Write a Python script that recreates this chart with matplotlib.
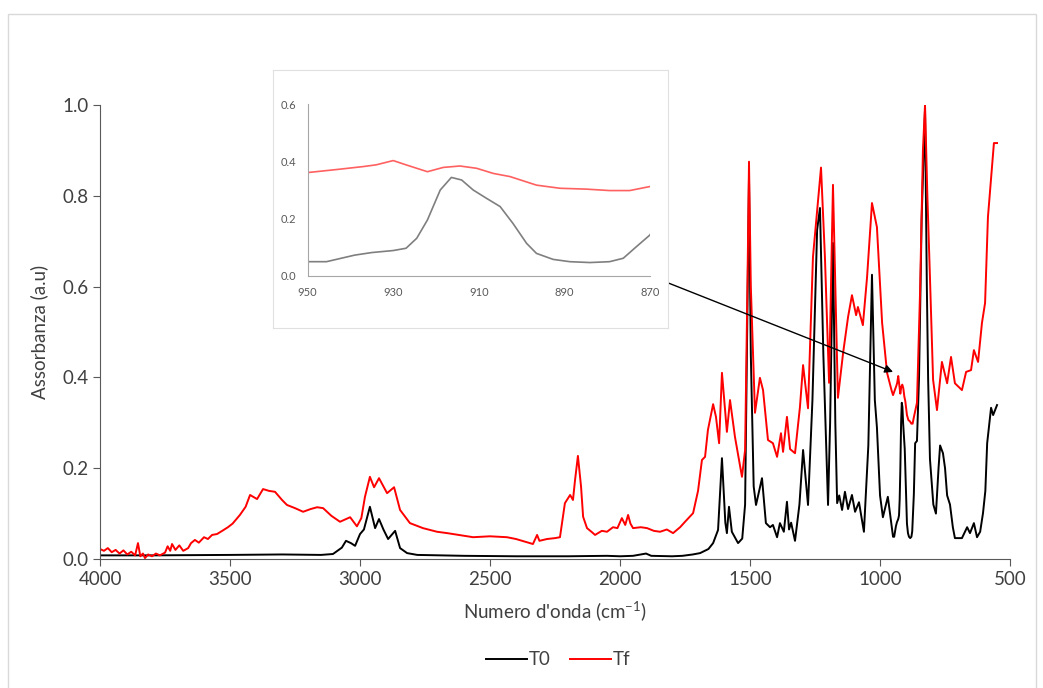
import matplotlib
matplotlib.use("Agg")
import matplotlib.pyplot as plt
from matplotlib.patches import Rectangle

plt.rcParams["font.family"] = ["Lato", "DejaVu Sans"]

# wavenumber (cm-1) / absorbance
wn_t0 = [4000, 3800, 3500, 3300, 3150, 3104, 3070, 3054, 3035, 3019, 3000, 2985,
         2962, 2942, 2927, 2910, 2892, 2865, 2846, 2819, 2780, 2600, 2400, 2200,
         2050, 2000, 1950, 1900, 1880, 1800, 1760, 1720, 1692, 1660, 1642, 1623,
         1608, 1595, 1589, 1581, 1570, 1546, 1530, 1519, 1510, 1504, 1497, 1486,
         1477, 1454, 1439, 1423, 1412, 1396, 1385, 1370, 1358, 1350, 1342, 1327,
         1310, 1296, 1277, 1260, 1242, 1231, 1218, 1200, 1192, 1181, 1172, 1165,
         1157, 1146, 1135, 1123, 1108, 1096, 1081, 1062, 1045, 1031, 1020, 1012,
         1000, 989, 970, 955,
         950, 945.6, 939, 935, 930, 927, 924.5, 922, 919, 916.4, 914, 911.3,
         908.2, 905, 902, 898.8, 896.5, 892.6, 888.7, 884, 879.4, 876.2, 873.1, 870,
         865, 858, 850, 840, 827, 820, 815, 808, 795, 785, 775, 769, 758, 750,
         742, 731, 720, 712, 685, 665, 654, 639, 627, 615, 604, 595, 588, 573,
         565, 550]
abs_t0 = [0.008, 0.008, 0.009, 0.010, 0.009, 0.011, 0.025, 0.040, 0.035, 0.029, 0.055, 0.065,
          0.115, 0.068, 0.088, 0.065, 0.044, 0.062, 0.024, 0.013, 0.009, 0.007, 0.006, 0.006,
          0.007, 0.006, 0.007, 0.012, 0.007, 0.006, 0.007, 0.010, 0.013, 0.022, 0.035, 0.064,
          0.222, 0.080, 0.057, 0.115, 0.060, 0.035, 0.045, 0.120, 0.550, 0.840, 0.450, 0.160,
          0.119, 0.178, 0.079, 0.070, 0.075, 0.048, 0.079, 0.060, 0.126, 0.065, 0.080, 0.040,
          0.120, 0.240, 0.119, 0.350, 0.725, 0.773, 0.450, 0.119, 0.300, 0.696, 0.300, 0.123,
          0.140, 0.108, 0.148, 0.110, 0.141, 0.104, 0.125, 0.060, 0.250, 0.626, 0.350, 0.290,
          0.140, 0.092, 0.137, 0.070,
          0.049, 0.049, 0.072, 0.081, 0.088, 0.096, 0.131, 0.195, 0.300, 0.344, 0.335, 0.300,
          0.271, 0.242, 0.183, 0.113, 0.078, 0.057, 0.049, 0.046, 0.049, 0.061, 0.102, 0.142,
          0.255, 0.260, 0.400, 0.750, 0.990, 0.600, 0.395, 0.220, 0.120, 0.100, 0.200, 0.250, 0.233, 0.200,
          0.140, 0.120, 0.070, 0.046, 0.046, 0.070, 0.057, 0.079, 0.048, 0.060, 0.101, 0.150, 0.255, 0.333,
          0.317, 0.339]

wn_tf = [4000, 3985, 3970, 3955, 3940, 3925, 3910, 3895, 3880, 3865, 3854, 3845,
         3835, 3827, 3815, 3800, 3785, 3770, 3750, 3740, 3730, 3723, 3710, 3695,
         3680, 3661, 3650, 3635, 3620, 3600, 3585, 3569, 3550, 3530, 3508, 3490,
         3462, 3440, 3423, 3396, 3373, 3350, 3327, 3300, 3281, 3250, 3219, 3190,
         3165, 3142, 3110, 3077, 3038, 3012, 2995, 2981, 2962, 2946, 2927, 2910,
         2896, 2869, 2846, 2808, 2758, 2704, 2665, 2620, 2565, 2500, 2435, 2400,
         2358, 2335, 2319, 2310, 2281, 2250, 2231, 2212, 2192, 2181, 2173, 2162,
         2150, 2142, 2127, 2110, 2096, 2070, 2050, 2027, 2010, 1993, 1980, 1969,
         1960, 1950, 1920, 1896, 1870, 1846, 1820, 1796, 1769, 1750, 1719, 1700,
         1685, 1673, 1662, 1642, 1631, 1619, 1608, 1589, 1577, 1558, 1531, 1519,
         1510, 1504, 1497, 1481, 1462, 1450, 1431, 1412, 1396, 1381, 1373, 1358,
         1346, 1327, 1308, 1296, 1277, 1258, 1227, 1212, 1196, 1181, 1162, 1142,
         1123, 1108, 1092, 1085, 1066, 1050, 1031, 1012, 992, 973, 955,
         950, 943, 937, 934, 930, 927, 922, 918.3, 914.4, 910.5, 906.6, 902.7,
         896.5, 891, 884.8, 879.4, 874.7, 870,
         858, 846, 835, 827, 818, 808, 796, 781, 762, 742, 727, 712, 685, 669,
         650, 639, 623, 608, 596, 585, 562, 550]
abs_tf = [0.022, 0.018, 0.024, 0.015, 0.020, 0.012, 0.019, 0.010, 0.016, 0.008, 0.035, 0.006,
          0.012, 0.002, 0.010, 0.006, 0.012, 0.008, 0.014, 0.028, 0.018, 0.033, 0.020, 0.030,
          0.018, 0.024, 0.035, 0.042, 0.036, 0.048, 0.044, 0.053, 0.055, 0.062, 0.070, 0.078,
          0.097, 0.115, 0.141, 0.132, 0.154, 0.150, 0.148, 0.130, 0.119, 0.112, 0.104, 0.110,
          0.114, 0.112, 0.095, 0.082, 0.092, 0.072, 0.090, 0.137, 0.181, 0.158, 0.178, 0.160,
          0.145, 0.158, 0.108, 0.079, 0.068, 0.060, 0.057, 0.053, 0.048, 0.050, 0.048, 0.044,
          0.037, 0.033, 0.053, 0.040, 0.044, 0.046, 0.048, 0.123, 0.141, 0.130, 0.174, 0.227,
          0.160, 0.093, 0.068, 0.060, 0.053, 0.062, 0.060, 0.070, 0.068, 0.090, 0.075, 0.097,
          0.078, 0.068, 0.070, 0.068, 0.062, 0.060, 0.065, 0.057, 0.070, 0.082, 0.101, 0.150,
          0.218, 0.225, 0.284, 0.341, 0.313, 0.255, 0.410, 0.280, 0.350, 0.269, 0.181, 0.240,
          0.600, 0.875, 0.600, 0.322, 0.399, 0.372, 0.262, 0.255, 0.225, 0.277, 0.236, 0.313,
          0.242, 0.233, 0.335, 0.427, 0.332, 0.665, 0.862, 0.665, 0.388, 0.824, 0.355, 0.454,
          0.533, 0.581, 0.537, 0.555, 0.515, 0.620, 0.784, 0.731, 0.520, 0.410, 0.370,
          0.361, 0.372, 0.382, 0.388, 0.403, 0.388, 0.364, 0.379, 0.384, 0.376, 0.358, 0.347,
          0.317, 0.306, 0.303, 0.298, 0.298, 0.312,
          0.344, 0.590, 0.900, 1.000, 0.800, 0.620, 0.395, 0.328, 0.434, 0.387, 0.445, 0.387, 0.372, 0.412,
          0.416, 0.460, 0.434, 0.520, 0.564, 0.753, 0.916, 0.916]

labels = ["T0", "Tf"]
main_xticks = [4000, 3500, 3000, 2500, 2000, 1500, 1000, 500]
main_yticks = [0.0, 0.2, 0.4, 0.6, 0.8, 1.0]
inset_xticks = [950, 930, 910, 890, 870]
inset_yticks = [0.0, 0.2, 0.4, 0.6]

txt = "#404040"

fig = plt.figure(figsize=(10.43, 6.88), dpi=100)
fig.patches.append(Rectangle((8 / 1043, -0.01), (1036 - 8) / 1043, 1.01 - 14 / 688,
                             transform=fig.transFigure, fill=False,
                             edgecolor="#d9d9d9", lw=1))

ax = fig.add_axes([0.0959, 0.1875, 0.8725, 0.66])
ax.plot(wn_t0, abs_t0, color="black", lw=1.4, label=labels[0])
ax.plot(wn_tf, abs_tf, color="red", lw=1.4, label=labels[1])
ax.set_xlim(4000, 500)
ax.set_ylim(0, 1.0)
ax.set_xticks(main_xticks)
ax.set_yticks(main_yticks)
ax.set_yticklabels([f"{v:.1f}" for v in main_yticks])
for s in ["top", "right"]:
    ax.spines[s].set_visible(False)
for s in ["left", "bottom"]:
    ax.spines[s].set_color("#595959")
ax.tick_params(colors="#595959", labelcolor=txt, labelsize=13.5, length=5)
ax.set_xlabel("Numero d'onda (cm$^{\\mathregular{-1}}$)", fontsize=13.5, color=txt, labelpad=8)
ax.set_ylabel("Assorbanza (a.u)", fontsize=13.5, color=txt, labelpad=10)

ax.annotate("", xy=(950, 0.412), xytext=(1815, 0.608),
            arrowprops=dict(arrowstyle="-|>", color="black", lw=1,
                            mutation_scale=12, shrinkA=0, shrinkB=0))

fig.legend(loc="center", bbox_to_anchor=(0.535, 0.041), ncol=2, frameon=False,
           fontsize=13.5, handlelength=2.2, columnspacing=1.0, handletextpad=0.1,
           labelcolor=txt)

# inset frame
frame = fig.add_axes([0.2617, 0.5233, 0.3787, 0.375])
frame.set_xticks([])
frame.set_yticks([])
frame.set_facecolor("white")
for s in frame.spines.values():
    s.set_color("#e0e0e0")

ins = fig.add_axes([0.295, 0.5993, 0.328, 0.2491])
ins.plot(wn_t0, abs_t0, color="#7f7f7f", lw=1.2)
ins.plot(wn_tf, abs_tf, color="#ff6060", lw=1.2)
ins.set_xlim(950, 870)
ins.set_ylim(0, 0.6)
ins.set_xticks(inset_xticks)
ins.set_yticks(inset_yticks)
ins.set_yticklabels([f"{v:.1f}" for v in inset_yticks])
for s in ["top", "right"]:
    ins.spines[s].set_visible(False)
for s in ["left", "bottom"]:
    ins.spines[s].set_color("#a6a6a6")
ins.tick_params(colors="#a6a6a6", labelcolor="#595959", labelsize=8, length=0, pad=8)

fig.savefig("out.png", dpi=100)
